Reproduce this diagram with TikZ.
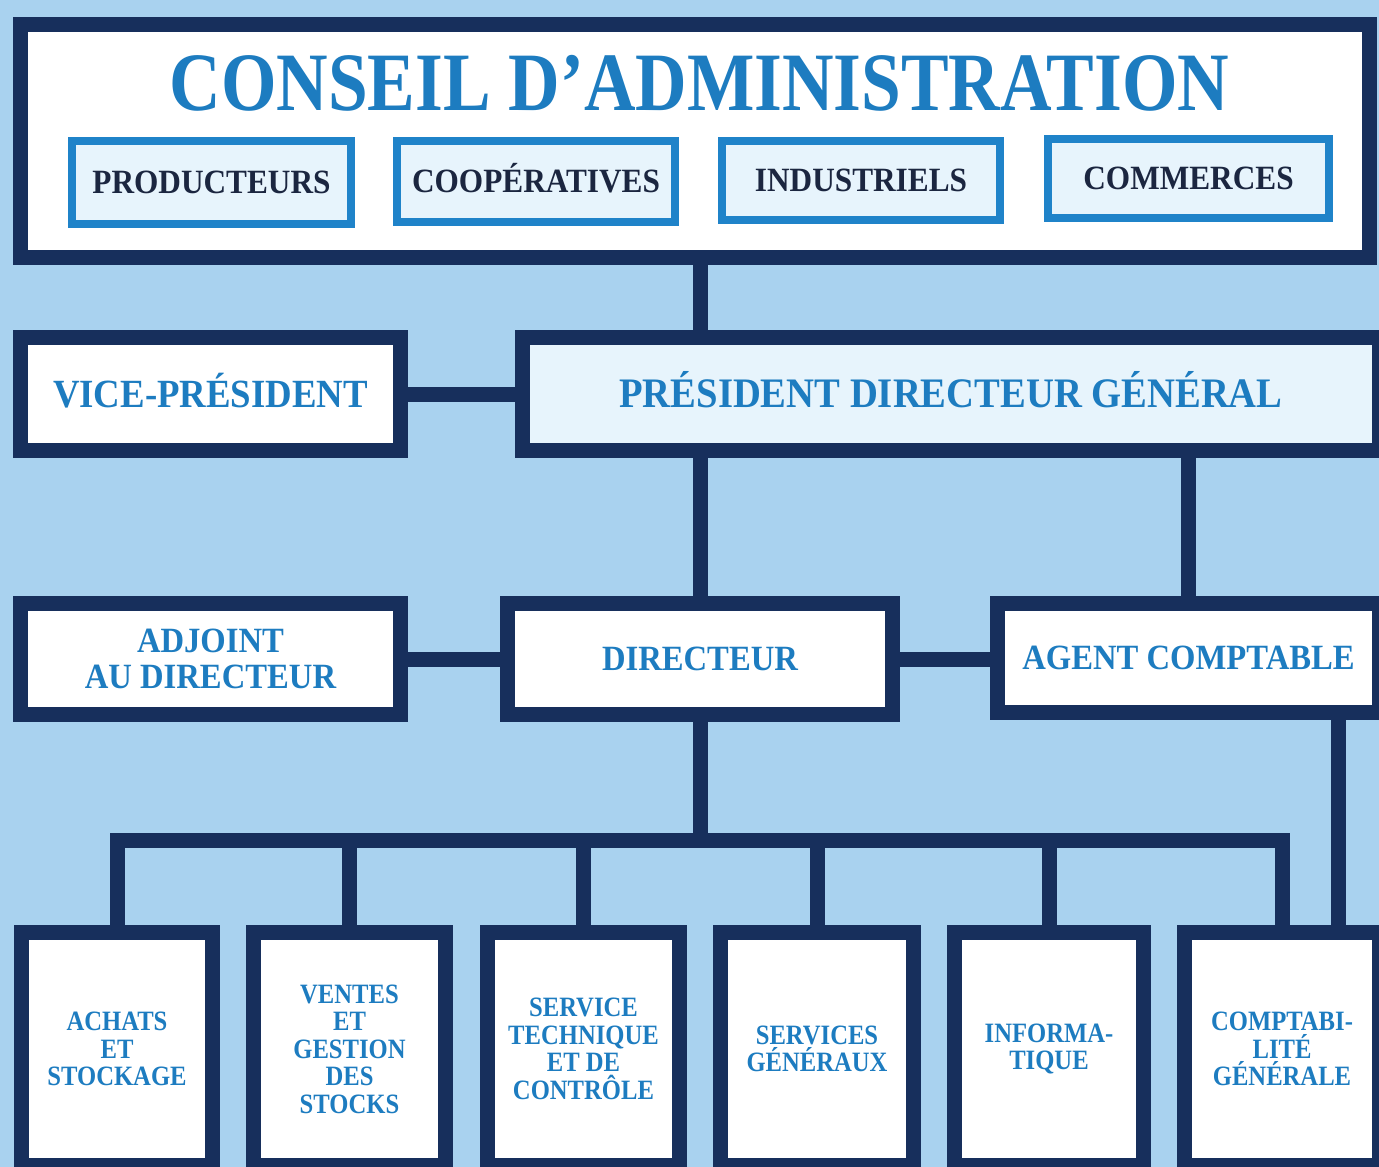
\documentclass[tikz,border=0pt]{standalone}
\usepackage{fontspec}
\newfontfamily\titlefont{Liberation Serif Bold}[FakeStretch=0.86]
\newfontfamily\labelfont{Liberation Serif Bold}[FakeStretch=0.92]
\newfontfamily\unitfont{Liberation Serif Bold}[FakeStretch=0.88]

\definecolor{bg}{HTML}{A9D2EF}
\definecolor{navy}{HTML}{172F5C}
\definecolor{ink}{HTML}{1D7CC0}
\definecolor{frameblue}{HTML}{1F83C9}
\definecolor{paleblue}{HTML}{E7F4FC}
\definecolor{dark}{HTML}{1B2640}

\begin{document}
\begin{tikzpicture}[x=1pt,y=-1pt,
  navybox/.style={draw=navy, line width=15pt, fill=white, rectangle,
    inner sep=0pt, text=ink, align=center},
  memberbox/.style={draw=frameblue, line width=8pt, fill=paleblue, rectangle,
    inner sep=0pt, text=dark, font=\labelfont\fontsize{34}{34}\selectfont,
    text height=22.5pt, text depth=0pt},
  bigtext/.style={font=\labelfont\fontsize{#1}{#1}\selectfont},
  unitbox/.style={navybox, minimum height=233pt,
    font=\unitfont\fontsize{28}{27.5}\selectfont},
  link/.style={draw=navy, line width=15pt, line join=miter},
]
\useasboundingbox (0,0) rectangle (1379,1167);
\fill[bg] (0,0) rectangle (1379,1167);

% board of directors and its four member groups
\node[navybox, minimum width=1349pt, minimum height=233pt] (cons) at (695,141) {};
\node[font=\titlefont\fontsize{83}{83}\selectfont, text=ink, inner sep=0pt,
      anchor=base] (title) at (699.5,110) {CONSEIL D’ADMINISTRATION};
\node[memberbox, minimum width=279pt, minimum height=83pt] (prod) at (211.5,182.5) {PRODUCTEURS};
\node[memberbox, minimum width=278pt, minimum height=81pt] (coop) at (536,181.5) {COOPÉRATIVES};
\node[memberbox, minimum width=278pt, minimum height=79pt] (indu) at (861,180.5) {INDUSTRIELS};
\node[memberbox, minimum width=281pt, minimum height=79pt] (comm) at (1188.5,178.5) {COMMERCES};

% executive level
\node[navybox, bigtext=40, text height=26.5pt, text depth=0pt,
      minimum width=380pt, minimum height=113pt] (vp) at (210.5,394) {VICE-PRÉSIDENT};
\node[navybox, fill=paleblue, bigtext=42, text height=27.8pt, text depth=0pt,
      minimum width=857pt, minimum height=113pt] (pdg) at (951,394) {PRÉSIDENT DIRECTEUR GÉNÉRAL};

% management level
\node[navybox, bigtext=35.5, minimum width=380pt, minimum height=111pt] (adj) at (210.5,659)
  {ADJOINT\\AU DIRECTEUR};
\node[navybox, bigtext=35.5, text height=23.5pt, text depth=0pt,
      minimum width=385pt, minimum height=111pt] (dir) at (700,659) {DIRECTEUR};
\node[navybox, bigtext=35.5, text height=23.5pt, text depth=0pt,
      minimum width=382pt, minimum height=109pt] (agt) at (1188.5,658) {AGENT COMPTABLE};

% departments
\node[unitbox, minimum width=191pt] (ach) at (117,1049) {ACHATS\\ET\\STOCKAGE};
\node[unitbox, minimum width=192pt] (ven) at (349.5,1049) {VENTES\\ET\\GESTION\\DES\\STOCKS};
\node[unitbox, minimum width=192pt] (ser) at (583.5,1049) {SERVICE\\TECHNIQUE\\ET DE\\CONTRÔLE};
\node[unitbox, minimum width=193pt] (sg)  at (817,1049) {SERVICES\\GÉNÉRAUX};
\node[unitbox, minimum width=189pt] (inf) at (1049,1049) {INFORMA-\\TIQUE};
\node[unitbox, minimum width=195pt] (cmp) at (1282,1049) {COMPTABI-\\LITÉ\\GÉNÉRALE};

% reference points for the connectors
\coordinate (spine) at (700,0);
\coordinate (acct) at (1338,0);
\coordinate (bus) at (700,840);

% connectors
\draw[link] (cons.south -| spine) -- (pdg.north -| spine);
\draw[link] (vp.east) -- (pdg.west);
\draw[link] (pdg.south -| spine) -- (dir.north);
\draw[link] (pdg.south -| agt.north) -- (agt.north);
\draw[link] (adj.east) -- (dir.west);
\draw[link] (dir.east) -- (dir.east -| agt.west);
\draw[link] (dir.south) -- (dir.south |- bus);
\draw[link] (ach.north) -- (ach.north |- bus) -- (cmp.north |- bus) -- (cmp.north);
\foreach \n in {ven,ser,sg,inf}
  \draw[link] (\n.north) -- (\n.north |- bus);
\draw[link] (agt.south -| acct) -- (cmp.north -| acct);
\end{tikzpicture}
\end{document}
